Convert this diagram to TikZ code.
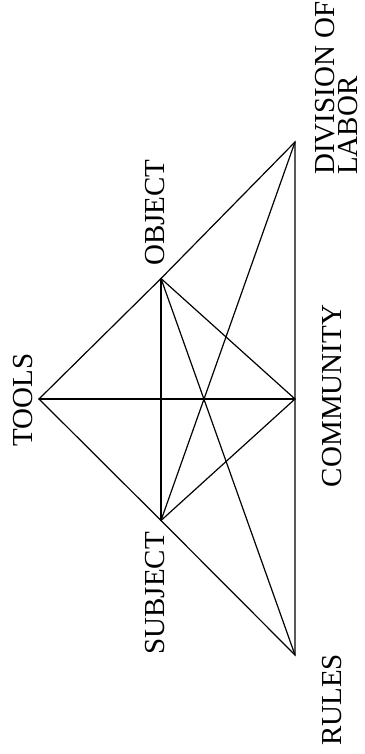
\documentclass[tikz,border=0pt]{standalone}
\usepackage{fontspec}
\setmainfont{Liberation Serif}
\begin{document}
\begin{tikzpicture}[x=1pt,y=-1pt,
  edge/.style={line width=1.2pt, line join=miter, line cap=round},
  lab/.style={font=\fontsize{29}{23.5}\selectfont, rotate=90, inner sep=0pt}]
\useasboundingbox (0,0) rectangle (364,754);
% vertices
\coordinate (T) at (39,399);
\coordinate (S) at (161,520.5);
\coordinate (O) at (161,278.5);
\coordinate (C) at (295,399);
\coordinate (R) at (295,655);
\coordinate (D) at (295,142);
% outer triangle
\draw[edge] (T) -- (O) -- (D) -- (C) -- (R) -- (S) -- cycle;
% inner lines
\draw[edge] (T) -- (C);
\draw[edge] (S) -- (O);
\draw[edge] (O) -- (C);
\draw[edge] (S) -- (C);
\draw[edge] (S) -- (D);
\draw[edge] (O) -- (R);
% labels
\node[lab] (tools) at (23,400) {TOOLS};
\node[lab, anchor=west] (object) at (155,266) {OBJECT};
\node[lab, anchor=east] (subject) at (155,532) {SUBJECT};
\node[lab] (community) at (332,396) {COMMUNITY};
\node[lab] (rules) at (332,700) {RULES};
\node[lab, align=left, anchor=north west] (division) at (315,175) {DIVISION OF\\LABOR};
\end{tikzpicture}
\end{document}
